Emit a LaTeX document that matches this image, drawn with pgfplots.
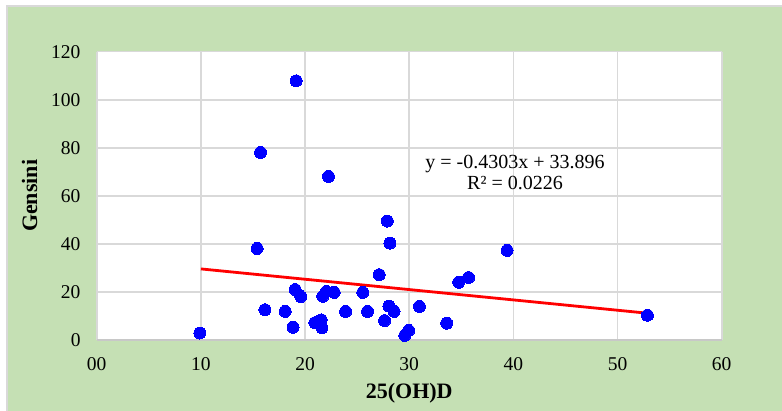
\documentclass[border=0pt]{standalone}
\usepackage{fontspec}
\setmainfont{Liberation Serif}
\usepackage{pgfplots}
\pgfplotsset{compat=1.18}
\definecolor{bggreen}{HTML}{C5E0B4}
\definecolor{gridgray}{HTML}{D9D9D9}
\definecolor{framegray}{HTML}{C8C8C8}

\pgfplotstableread{
x y
9.9 2.9
19.15 107.9
15.73 78.1
22.25 68.1
27.9 49.5
28.15 40.3
15.4 38.1
39.4 37.3
27.12 27.2
34.75 24.0
35.7 26.0
19.05 21.0
19.6 18.1
21.7 18.2
22.05 20.2
22.8 19.8
25.55 19.8
16.15 12.6
18.1 11.9
18.85 5.3
20.95 7.2
21.55 8.4
21.62 5.1
23.9 11.9
26.0 11.9
27.64 8.1
28.05 14.1
28.55 11.9
29.58 1.9
29.95 4.0
30.98 14.0
33.6 7.0
52.87 10.3
}\scatterdata

\begin{document}
\begin{tikzpicture}
\useasboundingbox (0pt,0pt) rectangle (782pt,411pt);
\fill[white] (0pt,0pt) rectangle (782pt,411pt);
\fill[gridgray] (6pt,0pt) rectangle (782pt,406pt);
\fill[bggreen] (8pt,0pt) rectangle (782pt,404pt);
\begin{axis}[
    at={(96.7pt,71pt)}, anchor=south west,
    scale only axis,
    width=625pt, height=288.3pt,
    xmin=0, xmax=60, ymin=0, ymax=120,
    xtick={0,10,20,30,40,50,60},
    xticklabels={00,10,20,30,40,50,60},
    ytick={0,20,40,60,80,100,120},
    yticklabels={0,20,40,60,80,100,120},
    major tick length=0pt,
    grid=major,
    grid style={gridgray, line width=1.6pt},
    axis line style={draw=none},
    axis background/.style={fill=white},
    tick label style={font=\fontsize{19.5}{22}\selectfont, inner sep=0pt},
    xticklabel style={anchor=north, yshift=-17.5pt},
    yticklabel style={anchor=east, xshift=-16pt},
    xlabel={\textbf{25(OH)D}},
    ylabel={\textbf{Gensini}},
    label style={font=\fontsize{22}{24}\selectfont},
    x label style={at={(axis description cs:0.5,-0.184)}, anchor=center},
    y label style={at={(axis description cs:-0.1075,0.5)}, anchor=center, rotate=0},
    clip=false,
]
\draw[framegray, line width=1.6pt] (axis cs:0,0) -- (axis cs:60,0);
\addplot[only marks, mark=*, mark size=6pt, mark options={fill=blue, draw=blue, line width=0pt}]
    table[x=x, y=y] {\scatterdata};
\addplot[red, line width=2.8pt] coordinates {(10,29.59) (52.87,11.15)};
\node[font=\fontsize{20}{21.6}\selectfont, align=center, inner sep=0pt]
    at (axis cs:40.16,69.7) {y = -0.4303x + 33.896\\R² = 0.0226};
\end{axis}
\end{tikzpicture}
\end{document}
